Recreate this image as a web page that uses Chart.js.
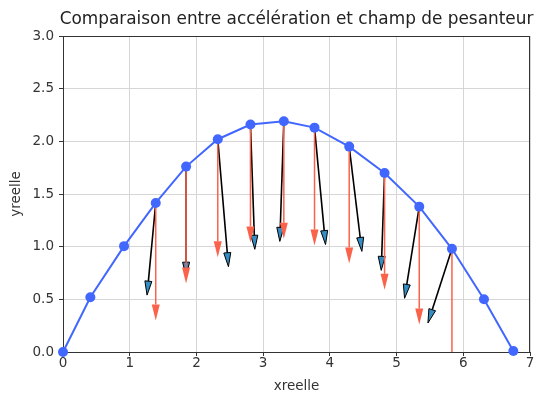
<!DOCTYPE html>
<html>
<head>
<meta charset="utf-8">
<script src="https://cdn.jsdelivr.net/npm/chart.js@4/dist/chart.umd.min.js"></script>
<style>
  html, body { margin: 0; padding: 0; background: #fff; }
</style>
</head>
<body>
<canvas id="chart" width="535" height="396"></canvas>
<script>
// positions relevees (trajectoire)
const xreelle = [0, 0.41, 0.915, 1.39, 1.845, 2.32, 2.81, 3.31, 3.77, 4.29, 4.82, 5.34, 5.83, 6.31, 6.75];
const yreelle = [0, 0.52, 1.005, 1.415, 1.76, 2.02, 2.16, 2.19, 2.13, 1.95, 1.70, 1.38, 0.98, 0.50, 0.01];

// points ou les vecteurs sont traces
const arrowIdx = [3, 4, 5, 6, 7, 8, 9, 10, 11, 12];
// pointe du vecteur champ de pesanteur (vertical)
const gTipY = [0.30, 0.65, 0.90, 1.04, 1.075, 1.01, 0.84, 0.59, 0.26, -0.2];
// pointe du vecteur acceleration
const accTipX = [1.26, 1.845, 2.48, 2.875, 3.25, 3.935, 4.48, 4.77, 5.12, 5.47];
const accTipY = [0.54, 0.72, 0.81, 0.975, 1.05, 1.02, 0.955, 0.775, 0.51, 0.275];

const xMin = 0, xMax = 7, xStep = 1;
const yMin = 0, yMax = 3, yStep = 0.5;

const titre = 'Comparaison entre accélération et champ de pesanteur';

const FONT = 'DejaVu Sans';
const blue = 'rgb(66,103,255)';
const red = 'rgb(250,98,74)';
const teal = 'rgb(52,142,196)';

function drawArrow(ctx, x0, y0, x1, y1, opt) {
  const ang = Math.atan2(y1 - y0, x1 - x0);
  const bx = x1 - opt.headLen * Math.cos(ang);
  const by = y1 - opt.headLen * Math.sin(ang);
  ctx.strokeStyle = opt.line;
  ctx.lineWidth = opt.lineWidth;
  ctx.beginPath();
  ctx.moveTo(x0, y0);
  ctx.lineTo(bx, by);
  ctx.stroke();
  const px = -Math.sin(ang) * opt.headW / 2;
  const py = Math.cos(ang) * opt.headW / 2;
  ctx.beginPath();
  ctx.moveTo(x1, y1);
  ctx.lineTo(bx + px, by + py);
  ctx.lineTo(bx - px, by - py);
  ctx.closePath();
  ctx.fillStyle = opt.fill;
  ctx.fill();
  if (opt.edge) {
    ctx.strokeStyle = opt.edge;
    ctx.lineWidth = 1;
    ctx.stroke();
  }
}

const arrows = {
  id: 'arrows',
  beforeDatasetsDraw(chart) {
    const { ctx, chartArea: a, scales: { x, y } } = chart;
    ctx.save();
    // cadre
    ctx.strokeStyle = '#333';
    ctx.lineWidth = 1;
    ctx.strokeRect(Math.round(a.left) + 0.5, Math.round(a.top) + 0.5,
      Math.round(a.right - a.left) - 1, Math.round(a.bottom - a.top));

    // titre centre sur la zone du graphe
    ctx.fillStyle = '#222';
    ctx.font = '16.9px "DejaVu Sans"';
    ctx.textAlign = 'center';
    ctx.textBaseline = 'middle';
    ctx.fillText(titre, (a.left + a.right) / 2, 20);

    ctx.beginPath();
    ctx.rect(a.left, a.top, a.right - a.left, a.bottom - a.top);
    ctx.clip();
    arrowIdx.forEach((k, i) => {
      const x0 = x.getPixelForValue(xreelle[k]);
      const y0 = y.getPixelForValue(yreelle[k]);
      drawArrow(ctx, x0, y0, x.getPixelForValue(accTipX[i]), y.getPixelForValue(accTipY[i]),
        { line: '#000', lineWidth: 1.6, fill: teal, edge: '#000', headLen: 14, headW: 7 });
    });
    arrowIdx.forEach((k, i) => {
      const x0 = x.getPixelForValue(xreelle[k]);
      const y0 = y.getPixelForValue(yreelle[k]);
      drawArrow(ctx, x0, y0, x0, y.getPixelForValue(gTipY[i]),
        { line: red, lineWidth: 1.5, fill: red, edge: null, headLen: 16, headW: 8 });
    });
    ctx.restore();
  }
};

const ctx = document.getElementById('chart');
const chart = new Chart(ctx, {
  type: 'scatter',
  data: {
    datasets: [{
      data: xreelle.map((v, i) => ({ x: v, y: yreelle[i] })),
      showLine: true,
      borderColor: blue,
      backgroundColor: blue,
      borderWidth: 2,
      pointRadius: 5,
      pointBorderWidth: 0,
      clip: 6
    }]
  },
  options: {
    responsive: false,
    animation: false,
    layout: { padding: { left: 0, right: 0, top: 36, bottom: 0 } },
    plugins: {
      legend: { display: false },
      tooltip: { enabled: false },
      title: { display: false }
    },
    scales: {
      x: {
        type: 'linear',
        min: xMin, max: xMax,
        afterFit(s) { s.height = 44; },
        ticks: { stepSize: xStep, color: '#333', padding: -1, font: { family: FONT, size: 13.5 } },
        grid: { color: '#d6d6d6', tickColor: '#333', tickLength: 4 },
        border: { color: '#333' },
        title: { display: true, text: 'xreelle', color: '#333', font: { family: FONT, size: 13.5 }, padding: { top: 0, bottom: 1 } }
      },
      y: {
        type: 'linear',
        min: yMin, max: yMax,
        afterFit(s) { s.width = 63; },
        ticks: { stepSize: yStep, color: '#333', padding: 5, font: { family: FONT, size: 13.5 },
          callback: v => v.toFixed(1) },
        grid: { color: '#d6d6d6', tickColor: '#333', tickLength: 4 },
        border: { color: '#333' },
        title: { display: true, text: 'yreelle', color: '#333', font: { family: FONT, size: 13.5 }, padding: { top: 8, bottom: 0 } }
      }
    }
  },
  plugins: [arrows]
});
</script>
</body>
</html>
